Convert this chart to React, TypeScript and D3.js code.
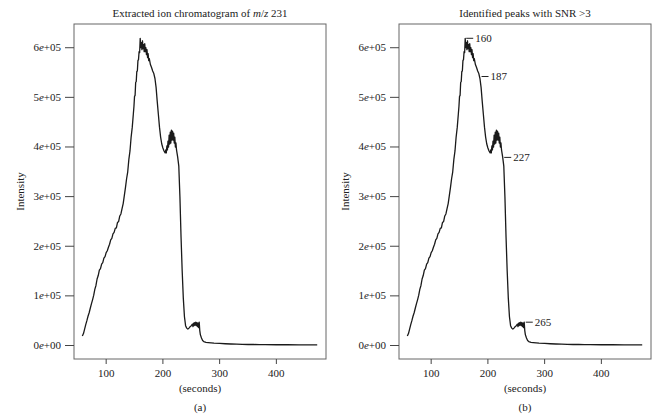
import * as d3 from 'd3';
import React from 'react';

// retention time (s) and intensity
const times = [
  58, 60, 62, 64, 66, 68, 70, 72, 74, 76, 78, 80, 82, 84, 86, 88, 90, 92, 94, 96, 98,
  100, 102, 104, 106, 108, 110, 112, 114, 116, 118, 120, 122, 124, 126, 128, 130, 132,
  134, 136, 138, 140, 142, 144, 146, 148, 149, 150, 151, 152, 153, 154, 155, 156, 157,
  158, 159, 160, 161, 162, 163, 164, 165, 166, 167, 168, 169, 170, 171, 172, 173, 174,
  175, 176, 178, 180, 182, 184, 186, 188, 190, 192, 194, 196, 198, 200, 202, 204, 205,
  206, 207, 208, 209, 210, 211, 212, 213, 214, 215, 216, 217, 218, 219, 220, 221, 222,
  223, 224, 226, 228, 230, 232, 234, 236, 238, 240, 242, 244, 246, 248, 250, 252, 253,
  254, 255, 256, 257, 258, 259, 260, 261, 262, 263, 264, 265, 266, 268, 270, 272, 276,
  280, 290, 300, 310, 320, 330, 340, 350, 360, 370, 380, 400, 420, 440, 460, 472,
];
const intensity = [
  19000, 24000, 33000, 42000, 50000, 59000, 66000, 75000, 84000, 92000, 101000, 113000,
  121000, 134000, 141000, 152000, 155000, 164000, 167000, 176000, 179000, 187000, 191000,
  198000, 204000, 213000, 216000, 225000, 228000, 236000, 237000, 248000, 250000, 261000,
  265000, 276000, 286000, 302000, 318000, 336000, 350000, 375000, 392000, 420000, 440000,
  468000, 482000, 502000, 504000, 530000, 532000, 552000, 553000, 574000, 576000, 592000,
  590000, 619000, 600000, 610000, 596000, 614000, 598000, 606000, 592000, 608000, 592000,
  600000, 586000, 596000, 580000, 588000, 574000, 578000, 566000, 560000, 553000, 548000,
  538000, 520000, 492000, 466000, 440000, 420000, 406000, 398000, 392000, 388000, 394000,
  388000, 402000, 394000, 412000, 400000, 424000, 406000, 430000, 408000, 434000, 414000,
  432000, 414000, 428000, 408000, 420000, 400000, 408000, 394000, 380000, 362000, 300000,
  218000, 150000, 95000, 58000, 40000, 35000, 33000, 35000, 38000, 40000, 43000, 38000,
  45000, 40000, 46000, 41000, 47000, 40000, 46000, 38000, 45000, 36000, 47000, 30000,
  22000, 15000, 10000, 8000, 6500, 6000, 4800, 4200, 3500, 3000, 2600, 2300, 2000, 2000,
  1800, 1600, 1500, 1500, 1400, 1400, 1400,
];

const peakTimes = [160, 187, 227, 265];
const peakIntensity = [619000, 542000, 379000, 47000];

const xTicks = [100, 200, 300, 400];
const yTicks = [0, 100000, 200000, 300000, 400000, 500000, 600000];

const W = 661;
const H = 419;
const boxTop = 24;
const boxBottom = 359;
const boxWidth = 252;
const font = '"Liberation Serif", "DejaVu Serif", serif';

const data = times.map((t, i) => ({ t, v: intensity[i] }));

const y = d3.scaleLinear().domain([-27200, 647800]).range([boxBottom, boxTop]);

// R style "6e+05" label, mantissa and exponent split
const yLabel = (v: number) => {
  const exp = v === 0 ? 0 : Math.floor(Math.log10(v) + 1e-9);
  const mant = v === 0 ? 0 : Math.round(v / Math.pow(10, exp));
  return { mant: String(mant), exp: '+' + String(exp).padStart(2, '0') };
};

const Panel = ({ x0, title, tag, peaks }: { x0: number; title: React.ReactNode; tag: string; peaks: boolean }) => {
  const x = d3.scaleLinear().domain([43.3, 487.5]).range([x0, x0 + boxWidth]);
  const line = d3.line<{ t: number; v: number }>()
    .x((d) => x(d.t))
    .y((d) => y(d.v));
  const cx = x0 + boxWidth / 2;
  return (
    <g fontFamily={font} fill="#222">
      <text x={cx} y={17} fontSize={11} textAnchor="middle">{title}</text>
      <rect x={x0} y={boxTop} width={boxWidth} height={boxBottom - boxTop} fill="none" stroke="#666" strokeWidth={1} />
      {yTicks.map((v) => {
        const l = yLabel(v);
        return (
          <g key={v}>
            <line x1={x0 - 9} x2={x0} y1={y(v)} y2={y(v)} stroke="#444" />
            <text x={x0 - 13} y={y(v) + 3.5} fontSize={11} textAnchor="end">
              {l.mant}<tspan fontStyle="italic">e</tspan>{l.exp}
            </text>
          </g>
        );
      })}
      {xTicks.map((t) => (
        <g key={t}>
          <line x1={x(t)} x2={x(t)} y1={boxBottom} y2={boxBottom + 5} stroke="#444" />
          <text x={x(t)} y={377} fontSize={11} textAnchor="middle">{t}</text>
        </g>
      ))}
      <text x={cx} y={392} fontSize={11} textAnchor="middle">(seconds)</text>
      <text x={cx} y={411} fontSize={11} textAnchor="middle">{tag}</text>
      <text transform={`translate(${x0 - 50},${(boxTop + boxBottom) / 2}) rotate(-90)`} fontSize={11} textAnchor="middle">Intensity</text>
      <path d={line(data) ?? ''} fill="none" stroke="#1a1a1a" strokeWidth={1.3} strokeLinejoin="round" />
      {peaks && peakTimes.map((t, i) => (
        <g key={t}>
          <line x1={x(t) + 1} x2={x(t) + 8} y1={y(peakIntensity[i])} y2={y(peakIntensity[i])} stroke="#222" strokeWidth={1} />
          <text x={x(t) + 10} y={y(peakIntensity[i]) + 3.5} fontSize={11}>{t}</text>
        </g>
      ))}
    </g>
  );
};

export default function App() {
  return (
    <svg width={W} height={H} style={{ position: 'absolute', left: 0, top: 0, background: '#fff' }}>
      <Panel
        x0={74}
        tag="(a)"
        peaks={false}
        title={<>Extracted ion chromatogram of <tspan fontStyle="italic">m</tspan>/<tspan fontStyle="italic">z</tspan> 231</>}
      />
      <Panel x0={399} tag="(b)" peaks={true} title="Identified peaks with SNR >3" />
    </svg>
  );
}
